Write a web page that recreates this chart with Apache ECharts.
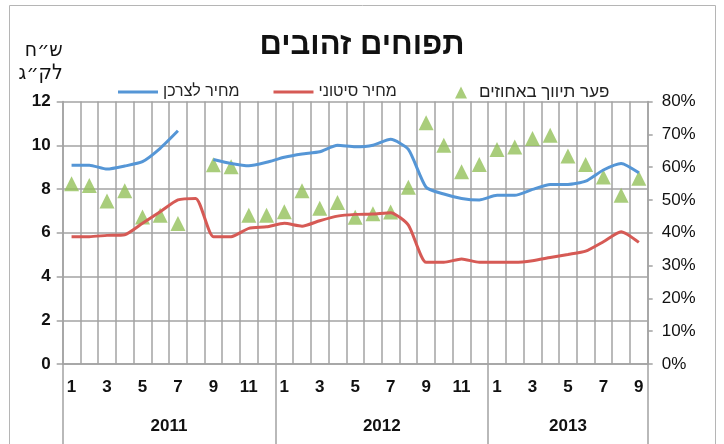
<!DOCTYPE html>
<html>
<head>
<meta charset="utf-8">
<script src="https://cdn.jsdelivr.net/npm/echarts@6/dist/echarts.min.js"></script>
<style>
  html, body { margin: 0; padding: 0; background: #fff; }
  #chart { width: 724px; height: 444px; }
</style>
</head>
<body>
<div id="chart"></div>
<script>
// חודשים ינואר 2011 - ספטמבר 2013
var months = [1,2,3,4,5,6,7,8,9,10,11,12, 1,2,3,4,5,6,7,8,9,10,11,12, 1,2,3,4,5,6,7,8,9];
var years = ["2011", "2012", "2013"];
var seriesNames = ["מחיר לצרכן", "מחיר סיטוני", "פער תיווך באחוזים"];
// ש"ח לק"ג
var consumerPrice = [9.09, 9.09, 8.91, 9.05, 9.25, 9.86, 10.66, null, 9.35, 9.17, 9.06, 9.22,
  9.45, 9.6, 9.7, 10.0, 9.93, 10.0, 10.27, 9.81, 8.08, 7.77, 7.57, 7.5,
  7.71, 7.71, 7.98, 8.21, 8.21, 8.36, 8.87, 9.17, 8.74];
var wholesalePrice = [5.82, 5.82, 5.88, 5.91, 6.43, 6.96, 7.5, 7.57, 5.82, 5.82, 6.2, 6.27,
  6.43, 6.3, 6.55, 6.76, 6.84, 6.86, 6.92, 6.35, 4.65, 4.65, 4.8, 4.65,
  4.65, 4.65, 4.72, 4.87, 5.01, 5.16, 5.59, 6.05, 5.56];
// באחוזים
var marginPct = [54.9, 54.4, 49.7, 52.8, 44.8, 45.3, 42.8, null, 60.7, 60.1, 45.3, 45.3,
  46.4, 52.8, 47.5, 49.2, 44.7, 45.8, 46.3, 53.9, 73.5, 66.7, 58.6, 60.8,
  65.4, 66.1, 68.7, 69.7, 63.4, 60.8, 57.0, 51.4, 56.6];

// גבולות השנים על ציר הזמן (נגזר מרשימת החודשים)
var yearEdges = [0];
months.forEach(function (m, i) {
  if (i > 0 && m === 1) yearEdges.push(i);
});
yearEdges.push(months.length);
var yearCenters = years.map(function (y, i) {
  return (yearEdges[i] + yearEdges[i + 1]) / 2;
});

var gridColor = "#a3a3a3";
var font = "'Liberation Sans', Arial, 'DejaVu Sans', sans-serif";
var lineIcon = "path://M0,0 L40,0 L40,3 L0,3 Z";

var chart = echarts.init(document.getElementById("chart"));
chart.setOption({
  animation: false,
  textStyle: { fontFamily: font },
  title: {
    text: "תפוחים זהובים",
    left: "center",
    top: 25,
    textStyle: { fontSize: 31, fontWeight: "bold", color: "#111", fontFamily: font }
  },
  graphic: [{
    type: "rect",
    shape: { x: 9.5, y: 5.5, width: 706, height: 450 },
    style: { fill: "none", stroke: "#b5b5b5", lineWidth: 1 }
  }],
  color: ["#5596d6", "#d65a55", "#93c05a"],
  legend: [{
    left: 113,
    top: 79,
    itemGap: 34,
    itemWidth: 40,
    itemHeight: 12,
    textStyle: { fontSize: 16, color: "#222", fontFamily: font },
    data: [
      { name: seriesNames[0], icon: lineIcon },
      { name: seriesNames[1], icon: lineIcon }
    ]
  }, {
    left: 450,
    top: 79,
    itemWidth: 26,
    itemHeight: 12,
    textStyle: { fontSize: 17, color: "#222", fontFamily: font },
    data: [
      { name: seriesNames[2], icon: "path://M5,0 L10,10 L0,10 Z" }
    ]
  }],
  grid: { left: 62.7, right: 76.3, top: 101.5, bottom: 80 },
  xAxis: [{
    type: "category",
    data: months,
    boundaryGap: true,
    axisLine: { lineStyle: { color: gridColor, width: 1.5 } },
    axisTick: { interval: 0, length: 39, lineStyle: { color: gridColor, width: 1.5 } },
    axisLabel: { interval: 1, margin: 15, fontSize: 17, fontWeight: "bold", color: "#111" },
    splitLine: { show: true, interval: 0, lineStyle: { color: gridColor, width: 1.5 } }
  }, {
    type: "value",
    min: 0,
    max: months.length,
    position: "bottom",
    axisLine: { show: false },
    splitLine: { show: false },
    axisTick: {
      show: true,
      customValues: yearEdges,
      length: 80,
      lineStyle: { color: gridColor, width: 1.5 }
    },
    axisLabel: {
      customValues: yearCenters,
      margin: 54,
      fontSize: 17,
      fontWeight: "bold",
      color: "#111",
      formatter: function (v) {
        var i = yearCenters.indexOf(v);
        return i >= 0 ? years[i] : "";
      }
    }
  }],
  yAxis: [{
    type: "value",
    min: 0,
    max: 12,
    interval: 2,
    name: "ש״ח\nלק״ג",
    nameLocation: "end",
    nameGap: 16,
    nameTextStyle: { fontSize: 21, color: "#111", align: "right", lineHeight: 23, fontFamily: "'DejaVu Sans Condensed', 'DejaVu Sans', sans-serif" },
    axisLine: { show: true, lineStyle: { color: gridColor, width: 1.5 } },
    axisTick: { show: true, length: 6, lineStyle: { color: gridColor, width: 1.5 } },
    axisLabel: { margin: 12, fontSize: 17, fontWeight: "bold", color: "#111" },
    splitLine: { lineStyle: { color: gridColor, width: 1.5 } }
  }, {
    type: "value",
    min: 0,
    max: 80,
    interval: 10,
    position: "right",
    axisLine: { show: true, lineStyle: { color: gridColor, width: 1.5 } },
    axisTick: { show: true, length: 5, lineStyle: { color: gridColor, width: 1.5 } },
    axisLabel: { margin: 14, fontSize: 17, color: "#111", formatter: "{value}%" },
    splitLine: { show: false }
  }],
  series: [{
    name: seriesNames[0],
    type: "line",
    data: consumerPrice,
    showSymbol: false,
    symbol: "none",
    smooth: 0.2,
    connectNulls: false,
    lineStyle: { width: 3 }
  }, {
    name: seriesNames[1],
    type: "line",
    data: wholesalePrice,
    showSymbol: false,
    symbol: "none",
    smooth: 0.2,
    lineStyle: { width: 3 }
  }, {
    name: seriesNames[2],
    type: "scatter",
    yAxisIndex: 1,
    data: marginPct,
    symbol: "triangle",
    symbolSize: 15
  }]
});
</script>
</body>
</html>
